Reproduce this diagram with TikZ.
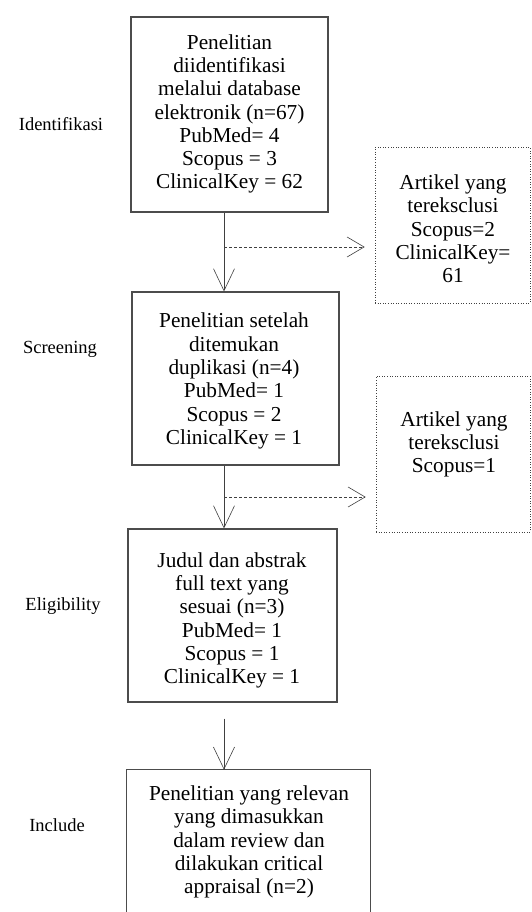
\documentclass[tikz,border=0pt]{standalone}
\usepackage{fontspec}
\setmainfont{Liberation Serif}
\usetikzlibrary{arrows.meta,calc}
\begin{document}
\begin{tikzpicture}[x=1pt,y=-1pt,
  box/.style={draw=black!70,line width=1.1pt,rectangle,inner sep=0pt},
  openbox/.style={draw=none,rectangle,inner sep=0pt},
  boxline/.style={draw=black!70,line width=1.1pt},
  dotbox/.style={draw=black!75,line width=0.6pt,dotted,rectangle,inner sep=0pt},
  txt/.style={align=center,inner sep=0pt,font=\fontsize{21.3}{23.3}\selectfont},
  side/.style={inner sep=0pt,font=\fontsize{18.5}{21}\selectfont},
  flow/.style={draw=black!75,line width=0.6pt,-{Straight Barb[length=22pt,width=21pt,line width=0.6pt]}},
  skip/.style={draw=black!75,line width=0.6pt,densely dashed,-{Straight Barb[length=17pt,width=20pt,line width=0.6pt]}}
]
\useasboundingbox (0,0) rectangle (531,912);
\fill[white] (0,0) rectangle (531,912);

% main boxes
\node[box,minimum width=197pt,minimum height=195pt] (b1) at (229.5,114.5) {};
\node[box,minimum width=207pt,minimum height=173pt] (b3) at (235.5,378.5) {};
\node[box,minimum width=209pt,minimum height=173pt] (b5) at (232.5,615.5) {};
\node[openbox,minimum width=243pt,minimum height=142pt] (b6) at (248.5,841) {};
\draw[boxline] (b6.south west) -- (b6.north west) -- (b6.north east) -- (b6.south east);

% excluded boxes
\node[dotbox,minimum width=155pt,minimum height=156pt] (bA) at (452.5,225) {};
\node[dotbox,minimum width=154pt,minimum height=156pt] (bB) at (453,454) {};

% texts
\node[txt] (t1) at (229.5,114) {Penelitian\\diidentifikasi\\melalui database\\elektronik (n=67)\\PubMed= 4\\Scopus = 3\\ClinicalKey = 62};
\node[txt] (t3) at (234,381) {Penelitian setelah\\ditemukan\\duplikasi (n=4)\\PubMed= 1\\Scopus = 2\\ClinicalKey = 1};
\node[txt] (t5) at (232,620.5) {Judul dan abstrak\\full text yang\\sesuai (n=3)\\PubMed= 1\\Scopus = 1\\ClinicalKey = 1};
\node[txt] (t6) at (249,842) {Penelitian yang relevan\\yang dimasukkan\\dalam review dan\\dilakukan critical\\appraisal (n=2)};
\node[txt] (tA) at (453,229) {Artikel yang\\tereksclusi\\Scopus=2\\ClinicalKey=\\61};
\node[txt] (tB) at (454,444.5) {Artikel yang\\tereksclusi\\Scopus=1};

% stage labels
\node[side] (l1) at (61,124) {Identifikasi};
\node[side] (l2) at (60,349) {Screening};
\node[side] (l3) at (63,606) {Eligibility};
\node[side] (l4) at (57,825) {Include};

% connectors
\coordinate (ax) at (224,0);
\coordinate (j1) at (224,247);
\coordinate (j2) at (224,497);
\draw[flow] (b1.south -| ax) -- (b3.north -| ax);
\draw[skip,shorten >=10pt] (j1) -- (bA.west |- j1);
\draw[flow] (b3.south -| ax) -- (b5.north -| ax);
\draw[skip,shorten >=10pt] (j2) -- (bB.west |- j2);
\draw[flow,shorten <=16pt] (b5.south -| ax) -- (b6.north -| ax);
\end{tikzpicture}
\end{document}
